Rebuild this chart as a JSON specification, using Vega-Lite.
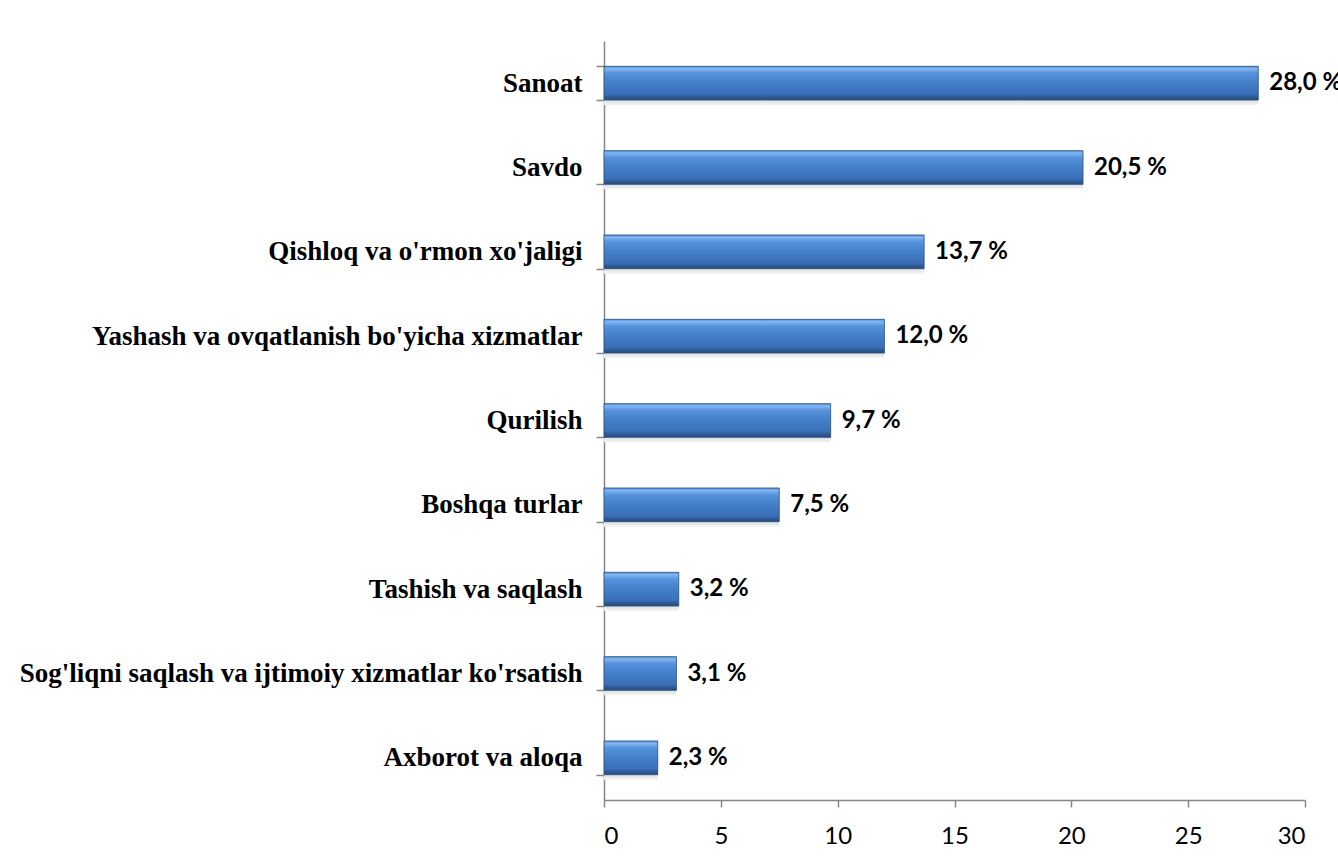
{
  "$schema": "https://vega.github.io/schema/vega-lite/v6.json",
  "width": 701,
  "height": 759,
  "autosize": {"type": "none"},
  "padding": {"left": 604, "top": 41, "right": 33, "bottom": 61},
  "background": "white",
  "data": {
    "values": [
      {"sector": "Sanoat", "value": 28.0, "label": "28,0 %"},
      {"sector": "Savdo", "value": 20.5, "label": "20,5 %"},
      {"sector": "Qishloq va o'rmon xo'jaligi", "value": 13.7, "label": "13,7 %"},
      {"sector": "Yashash va ovqatlanish bo'yicha xizmatlar", "value": 12.0, "label": "12,0 %"},
      {"sector": "Qurilish", "value": 9.7, "label": "9,7 %"},
      {"sector": "Boshqa turlar", "value": 7.5, "label": "7,5 %"},
      {"sector": "Tashish va saqlash", "value": 3.2, "label": "3,2 %"},
      {"sector": "Sog'liqni saqlash va ijtimoiy xizmatlar ko'rsatish", "value": 3.1, "label": "3,1 %"},
      {"sector": "Axborot va aloqa", "value": 2.3, "label": "2,3 %"}
    ]
  },
  "encoding": {
    "y": {
      "field": "sector",
      "type": "nominal",
      "sort": null,
      "scale": {"paddingInner": 0.6, "paddingOuter": 0.3},
      "axis": {
        "title": null,
        "tickBand": "extent",
        "tickSize": 8,
        "tickColor": "#868686",
        "tickWidth": 1.5,
        "domainColor": "#868686",
        "domainWidth": 1.5,
        "labelFont": "Liberation Serif",
        "labelFontWeight": "bold",
        "labelFontSize": 27,
        "labelColor": "#000000",
        "labelPadding": 14,
        "labelLimit": 700
      }
    },
    "x": {
      "field": "value",
      "type": "quantitative",
      "scale": {"domain": [0, 30], "nice": false},
      "axis": {
        "title": null,
        "values": [0, 5, 10, 15, 20, 25, 30],
        "grid": false,
        "tickSize": 7,
        "tickColor": "#868686",
        "tickWidth": 1.5,
        "domainColor": "#868686",
        "domainWidth": 1.5,
        "labelFont": "Lato",
        "labelFontSize": 24,
        "labelColor": "#000000",
        "labelPadding": 17
      }
    }
  },
  "layer": [
    {
      "mark": {
        "type": "bar",
        "yOffset": 5,
        "fill": {
          "x1": 0, "y1": 0, "x2": 0, "y2": 1,
          "gradient": "linear",
          "stops": [
            {"offset": 0, "color": "#ffffff"},
            {"offset": 0.75, "color": "#d0d0d0"},
            {"offset": 1, "color": "#f4f4f4"}
          ]
        }
      }
    },
    {
      "mark": {
        "type": "bar",
        "stroke": "#2a4f80",
        "strokeWidth": 0.8,
        "fill": {
          "x1": 0, "y1": 0, "x2": 0, "y2": 1,
          "gradient": "linear",
          "stops": [
            {"offset": 0, "color": "#4f8ad4"},
            {"offset": 0.07, "color": "#82b8f2"},
            {"offset": 0.2, "color": "#5793dc"},
            {"offset": 0.5, "color": "#437ec9"},
            {"offset": 0.82, "color": "#3a70b8"},
            {"offset": 0.92, "color": "#2d5890"},
            {"offset": 1, "color": "#284c7a"}
          ]
        }
      }
    },
    {
      "mark": {
        "type": "text",
        "align": "left",
        "baseline": "middle",
        "dx": 11,
        "font": "Lato",
        "fontWeight": "bold",
        "fontSize": 24,
        "color": "#000000"
      },
      "encoding": {"text": {"field": "label"}}
    }
  ],
  "config": {"view": {"stroke": null}}
}
